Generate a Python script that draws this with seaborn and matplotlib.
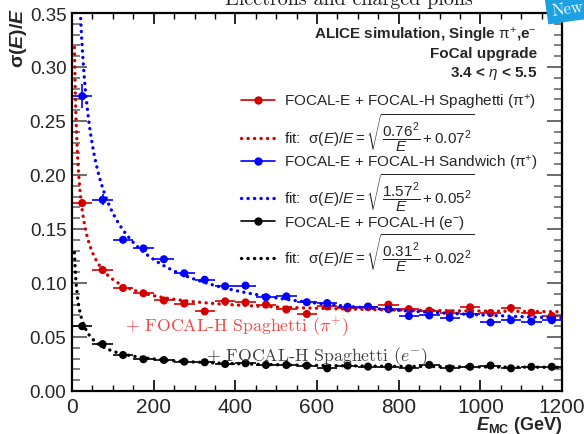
import numpy as np
import pandas as pd
import matplotlib
matplotlib.use("Agg")
import matplotlib.pyplot as plt
import seaborn as sns
from matplotlib.lines import Line2D
from matplotlib.ticker import MultipleLocator, FormatStrFormatter

# ---- data -------------------------------------------------------------
energy_gev = [25, 75, 125, 175, 225, 275, 325, 375, 425, 475, 525, 575,
              625, 675, 725, 775, 825, 875, 925, 975, 1025, 1075, 1125, 1175]
bin_half_width = 25

res_spaghetti_pi = [0.174, 0.112, 0.0954, 0.0905, 0.0838, 0.0810, 0.0737, 0.0830,
                    0.0820, 0.0800, 0.0755, 0.0713, 0.0783, 0.0765, 0.0777, 0.0800,
                    0.0758, 0.0743, 0.0719, 0.0775, 0.0722, 0.0768, 0.0725, 0.0695]
err_spaghetti_pi = [0.004, 0.002, 0.0015, 0.0015, 0.0015, 0.0015, 0.0015, 0.0015,
                    0.0015, 0.0015, 0.0015, 0.0015, 0.0015, 0.0015, 0.0015, 0.0015,
                    0.0015, 0.0015, 0.0015, 0.0015, 0.0015, 0.0015, 0.0015, 0.0015]

res_sandwich_pi = [0.273, 0.177, 0.140, 0.132, 0.122, 0.109, 0.103, 0.0970,
                   0.0976, 0.0869, 0.0876, 0.0822, 0.0814, 0.0780, 0.0782, 0.0758,
                   0.0694, 0.0700, 0.0678, 0.0709, 0.0635, 0.0655, 0.0643, 0.0655]
err_sandwich_pi = [0.011, 0.005, 0.003, 0.003, 0.002, 0.002, 0.002, 0.002,
                   0.002, 0.002, 0.002, 0.002, 0.002, 0.002, 0.002, 0.002,
                   0.002, 0.002, 0.002, 0.002, 0.002, 0.002, 0.002, 0.002]

res_electron = [0.0600, 0.0434, 0.0333, 0.0294, 0.0287, 0.0272, 0.0266, 0.0250,
                0.0257, 0.0241, 0.0241, 0.0235, 0.0210, 0.0235, 0.0226, 0.0224,
                0.0210, 0.0242, 0.0210, 0.0224, 0.0236, 0.0210, 0.0224, 0.0224]
err_electron = [0.0015, 0.001, 0.0008, 0.0008, 0.0008, 0.0008, 0.0008, 0.0008,
                0.0008, 0.0008, 0.0008, 0.0008, 0.0008, 0.0008, 0.0008, 0.0008,
                0.0008, 0.0008, 0.0008, 0.0008, 0.0008, 0.0008, 0.0008, 0.0008]

# fitted resolution parameters: stochastic term a, constant term b
fit_spaghetti = (0.76, 0.07)
fit_sandwich = (1.57, 0.05)
fit_electron = (0.31, 0.02)

x_ticks = [0, 200, 400, 600, 800, 1000, 1200]
y_ticks = [0.00, 0.05, 0.10, 0.15, 0.20, 0.25, 0.30, 0.35]

RED = "#d40000"
BLUE = "#0000ff"
BLACK = "#000000"

# ---- style ------------------------------------------------------------
sns.set_theme(style="ticks")
plt.rcParams["font.family"] = ["Liberation Sans", "DejaVu Sans"]
plt.rcParams["mathtext.fontset"] = "custom"
plt.rcParams["mathtext.rm"] = "Liberation Sans"
plt.rcParams["mathtext.it"] = "Liberation Sans:italic"
plt.rcParams["mathtext.bf"] = "Liberation Sans:bold"
plt.rcParams["mathtext.bfit"] = "Liberation Sans:bold:italic"

fig = plt.figure(figsize=(5.84, 4.35), dpi=100)
W, H = 584, 435
ax = fig.add_axes([72 / W, 1 - 392 / H, (562 - 72) / W, (392 - 14) / H])

series = [
    ("spaghetti", res_spaghetti_pi, err_spaghetti_pi, fit_spaghetti, RED),
    ("sandwich", res_sandwich_pi, err_sandwich_pi, fit_sandwich, BLUE),
    ("electron", res_electron, err_electron, fit_electron, BLACK),
]

e_fine = np.linspace(6, 1200, 800)
dotted = (0, (0.05, 1.9))
for name, res, err, (a, b), col in series:
    df = pd.DataFrame({"E": energy_gev, "res": res, "err": err})
    ax.errorbar(df["E"], df["res"], xerr=bin_half_width, yerr=df["err"],
                fmt="none", ecolor=col, elinewidth=1.2, capsize=0, zorder=2)
    sns.scatterplot(data=df, x="E", y="res", color=col, s=34,
                    edgecolor="none", ax=ax, zorder=3)
    fit_df = pd.DataFrame({"E": e_fine, "res": np.sqrt(a ** 2 / e_fine + b ** 2)})
    sns.lineplot(data=fit_df, x="E", y="res", color=col, lw=2.4,
                 linestyle=dotted, dash_capstyle="round", ax=ax, zorder=4)

# ---- axes -------------------------------------------------------------
ax.set_xlim(0, 1200)
ax.set_ylim(0, 0.35)
ax.set_xticks(x_ticks)
ax.set_yticks(y_ticks)
ax.xaxis.set_minor_locator(MultipleLocator(50))
ax.yaxis.set_minor_locator(MultipleLocator(0.01))
ax.yaxis.set_major_formatter(FormatStrFormatter("%.2f"))
ax.tick_params(axis="x", which="both", direction="in", top=True, bottom=True,
               color="black", labelsize=15, pad=4)
ax.tick_params(axis="x", which="major", length=8, width=1.2)
ax.tick_params(axis="x", which="minor", length=4.5, width=1.0)
ax.tick_params(axis="y", which="both", direction="in", left=True, right=True,
               color="#6a6a6a", labelsize=13.5, pad=4)
ax.tick_params(axis="y", which="major", length=11, width=1.4)
ax.tick_params(axis="y", which="minor", length=5.5, width=1.2)
for sp in ax.spines.values():
    sp.set_linewidth(1.6)
    sp.set_color("black")

ax.set_xlabel(r"$\mathbfit{E}_{\mathbf{MC}}$ (GeV)", fontsize=13,
              fontweight="bold", loc="right")
ax.xaxis.set_label_coords(1.0, -0.06)
ax.set_ylabel(r"$\mathbf{\sigma(}\mathbfit{E}\mathbf{)/}\mathbfit{E}$",
              fontsize=14, fontweight="bold", loc="top")
ax.yaxis.set_label_coords(-0.088, 1.016)

# ---- header and legend ------------------------------------------------
hx = (537 - 72) / 490
ax.text(hx, (392 - 35) / 378, r"ALICE simulation, Single $\mathrm{\pi}^{+}$,e$^{-}$",
        transform=ax.transAxes, ha="right", va="center", fontsize=11,
        fontweight="bold")
ax.text(hx, (392 - 54) / 378, "FoCal upgrade", transform=ax.transAxes,
        ha="right", va="center", fontsize=11, fontweight="bold")
ax.text(hx, (392 - 73) / 378, r"3.4 < $\eta$ < 5.5", transform=ax.transAxes,
        ha="right", va="center", fontsize=11, fontweight="bold")


def fit_label(a, b):
    return r"fit:  $\mathrm{\sigma}(E)/E = \sqrt{\dfrac{%.2f^2}{E} + %.2f^2}$" % (a, b)


handles = [
    Line2D([], [], color=RED, lw=1.2, marker="o", ms=5),
    Line2D([], [], color=RED, lw=2.4, linestyle=dotted, dash_capstyle="round"),
    Line2D([], [], color=BLUE, lw=1.2, marker="o", ms=5),
    Line2D([], [], color=BLUE, lw=2.4, linestyle=dotted, dash_capstyle="round"),
    Line2D([], [], color=BLACK, lw=1.2, marker="o", ms=5),
    Line2D([], [], color=BLACK, lw=2.4, linestyle=dotted, dash_capstyle="round"),
]
labels = [
    r"FOCAL-E + FOCAL-H Spaghetti ($\mathrm{\pi}^{+}$)",
    fit_label(*fit_spaghetti),
    r"FOCAL-E + FOCAL-H Sandwich ($\mathrm{\pi}^{+}$)",
    fit_label(*fit_sandwich),
    r"FOCAL-E + FOCAL-H (e$^{-}$)",
    fit_label(*fit_electron),
]
ax.legend(handles, labels, loc="upper left",
          bbox_to_anchor=((241 - 72) / 490, (392 - 93) / 378),
          frameon=False, fontsize=11, handlelength=2.2, handletextpad=0.6,
          labelspacing=0.0, borderpad=0, borderaxespad=0)

# ---- overlay annotations ---------------------------------------------
ax.text((125 - 72) / 490, (392 - 327) / 378, r"+ FOCAL-H Spaghetti ($\pi^{+}$)",
        transform=ax.transAxes, ha="left", va="center", fontsize=12.8,
        color="#f04848", family="cmr10", math_fontfamily="cm")
ax.text((206 - 72) / 490, (392 - 357) / 378, r"+ FOCAL-H Spaghetti ($e^{-}$)",
        transform=ax.transAxes, ha="left", va="center", fontsize=12.8,
        color="#404040", family="cmr10", math_fontfamily="cm")

fig.text(349 / W, 1 - 5 / H, "Electrons and charged pions", ha="center",
         va="baseline", fontsize=14.5, family="cmr10", color="#222222")
fig.text(568 / W, 1 - 9 / H, "New", ha="center", va="center", fontsize=12,
         family="cmr10", color="white", rotation=8,
         bbox=dict(facecolor="#1ba1e2", edgecolor="none",
                   boxstyle="square,pad=0.35"))

fig.savefig("out.png", dpi=100)
